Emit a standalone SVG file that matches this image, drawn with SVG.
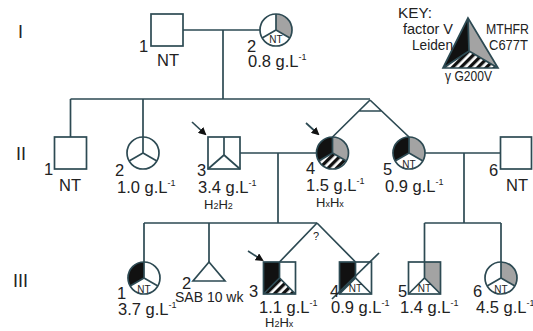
<svg xmlns="http://www.w3.org/2000/svg" width="533" height="331" viewBox="0 0 533 331">
<style>
text{font-family:"Liberation Sans",Arial,sans-serif;fill:#222;font-size:16.5px}
.ln{stroke:#2d4a53;stroke-width:1.7;fill:none}
.ol{stroke:#2d4a53;stroke-width:1.7;fill:none}
.bk{fill:#111}
.gy{fill:#a3a3a3}
.ht{fill:url(#hatch)}
.wh{fill:#fff}
.nt{font-size:10px;text-anchor:middle}
.sup{font-size:9px}
.sm{font-size:13px}
.rn{font-size:18px}
.key{font-size:15px}
.end{text-anchor:end}
</style>
<defs>
<pattern id="hatch" patternUnits="userSpaceOnUse" width="6" height="6" patternTransform="rotate(-45)">
<rect width="6" height="6" fill="#fff"/>
<rect width="6" height="3.3" fill="#111"/>
</pattern>
<marker id="arr" markerWidth="8" markerHeight="8" refX="6" refY="4" orient="auto" markerUnits="userSpaceOnUse">
<path d="M0,0 L8,4 L0,8 Z" fill="#111"/>
</marker>
</defs>

<g id="connectors">
<path class="ln" d="M183,30 H260 M223,30 V99 M70.5,99 H370 M70.5,99 V137 M143,99 V137"/>
<path class="ln" d="M370,100 L332.5,137 M370,100 L409,137 M359,111 H382"/>
<path class="ln" d="M240,153 H316.5 M278,153 V223 M144,223 H317 M144,223 V262 M209,223 V262"/>
<path class="ln" d="M317,223 L279.5,262 M317,223 L355.5,262"/>
<path class="ln" d="M425,153 H500.5 M464,153 V223 M424.5,223 H501 M424.5,223 V262 M501,223 V262"/>
<path class="ln" d="M192,122 L205,134" stroke="#111" marker-end="url(#arr)"/>
<path class="ln" d="M306,123 L318,134" stroke="#111" marker-end="url(#arr)"/>
<path class="ln" d="M248,251 L262,260" stroke="#111" marker-end="url(#arr)"/>
<text x="313" y="240" style="font-size:11px">?</text>
</g>

<g id="gen-labels">
<text class="rn" x="18" y="38">I</text>
<text class="rn" x="16" y="160">II</text>
<text class="rn" x="13" y="287">III</text>
</g>

<g id="key">
<path class="bk" d="M468,18 L469,51 L443,68 Z"/>
<path class="gy" d="M468,18 L469,51 L498,68 Z"/>
<path class="ht" d="M443,68 L469,51 L498,68 Z"/>
<path class="ol" d="M468,18 L443,68 L498,68 Z M468,18 L469,51 M443,68 L469,51 L498,68"/>
<text class="key end" x="432" y="18" textLength="34" lengthAdjust="spacingAndGlyphs">KEY:</text>
<text class="key end" x="453" y="34" textLength="50" lengthAdjust="spacingAndGlyphs">factor V</text>
<text class="key end" x="453" y="50" textLength="41" lengthAdjust="spacingAndGlyphs">Leiden</text>
<text class="key" x="486" y="34" textLength="43" lengthAdjust="spacingAndGlyphs">MTHFR</text>
<text class="key" x="489" y="50" textLength="39" lengthAdjust="spacingAndGlyphs">C677T</text>
<text class="key" x="445" y="81" textLength="47" lengthAdjust="spacingAndGlyphs">γ G200V</text>
</g>

<g id="I-1">
<rect class="ol" x="151" y="14" width="32" height="32" fill="#fff"/>
<text x="139" y="52">1</text>
<text x="157" y="66">NT</text>
</g>

<g id="I-2">
<g transform="translate(276,30)">
<circle r="16" class="wh"/>
<path class="gy" d="M0,0 L0,-16 A16,16 0 0 1 13.86,8 Z"/>
<path class="ol" d="M0,-16 L0,0 M-13.86,8 L0,0 L13.86,8"/>
<circle r="16" class="ol"/>
<text class="nt" x="0" y="13">NT</text>
</g>
<text x="247" y="52">2</text>
<text x="248" y="67">0.8 g.L<tspan class="sup" dy="-7">-1</tspan></text>
</g>

<g id="II-1">
<rect class="ol" x="54.5" y="137" width="32" height="32" fill="#fff"/>
<text x="44" y="175">1</text>
<text x="59" y="191">NT</text>
</g>

<g id="II-2">
<g transform="translate(143,153)">
<circle r="16" class="wh"/>
<path class="ol" d="M0,-16 L0,0 M-13.86,8 L0,0 L13.86,8"/>
<circle r="16" class="ol"/>
</g>
<text x="115" y="176">2</text>
<text x="117" y="193">1.0 g.L<tspan class="sup" dy="-7">-1</tspan></text>
</g>

<g id="II-3">
<g transform="translate(224,153)">
<rect x="-16" y="-16" width="32" height="32" class="wh"/>
<path class="ol" d="M0,-16 L0,2 M-16,16 L0,2 L16,16"/>
<rect x="-16" y="-16" width="32" height="32" class="ol"/>
</g>
<text x="197" y="176">3</text>
<text x="198" y="193">3.4 g.L<tspan class="sup" dy="-7">-1</tspan></text>
<text class="sm" x="204" y="209">H<tspan class="sup">2</tspan>H<tspan class="sup">2</tspan></text>
</g>

<g id="II-4">
<g transform="translate(332.5,153)">
<circle r="16" class="wh"/>
<path class="bk" d="M0,0 L0,-16 A16,16 0 0 0 -13.86,8 Z"/>
<path class="gy" d="M0,0 L0,-16 A16,16 0 0 1 13.86,8 Z"/>
<path class="ht" d="M0,0 L-13.86,8 A16,16 0 0 0 13.86,8 Z"/>
<path class="ol" d="M0,-16 L0,0 M-13.86,8 L0,0 L13.86,8"/>
<circle r="16" class="ol"/>
</g>
<text x="306" y="174">4</text>
<text x="306" y="191">1.5 g.L<tspan class="sup" dy="-7">-1</tspan></text>
<text class="sm" x="316" y="207">H<tspan class="sup">x</tspan>H<tspan class="sup">x</tspan></text>
</g>

<g id="II-5">
<g transform="translate(409,153)">
<circle r="16" class="wh"/>
<path class="bk" d="M0,0 L0,-16 A16,16 0 0 0 -13.86,8 Z"/>
<path class="gy" d="M0,0 L0,-16 A16,16 0 0 1 13.86,8 Z"/>
<path class="ol" d="M0,-16 L0,0 M-13.86,8 L0,0 L13.86,8"/>
<circle r="16" class="ol"/>
<text class="nt" x="0" y="15">NT</text>
</g>
<text x="383" y="175">5</text>
<text x="385" y="192">0.9 g.L<tspan class="sup" dy="-7">-1</tspan></text>
</g>

<g id="II-6">
<rect class="ol" x="500.5" y="137" width="31" height="32" fill="#fff"/>
<text x="489" y="176">6</text>
<text x="506" y="191">NT</text>
</g>

<g id="III-1">
<g transform="translate(144,278)">
<circle r="16" class="wh"/>
<path class="bk" d="M0,0 L0,-16 A16,16 0 0 0 -13.86,8 Z"/>
<path class="ol" d="M0,-16 L0,0 M-13.86,8 L0,0 L13.86,8"/>
<circle r="16" class="ol"/>
<text class="nt" x="0" y="15">NT</text>
</g>
<text x="117" y="299">1</text>
<text x="118" y="315">3.7 g.L<tspan class="sup" dy="-7">-1</tspan></text>
</g>

<g id="III-2">
<path class="ol" d="M209,262 L225,281 L193,281 Z" fill="#fff"/>
<text x="182" y="289">2</text>
<text x="175" y="302" style="font-size:14px">SAB 10 wk</text>
</g>

<g id="III-3">
<g transform="translate(279.5,278)">
<rect x="-16" y="-16" width="32" height="32" class="wh"/>
<path class="bk" d="M0,-16 L-16,-16 L-16,16 L0,0 Z"/>
<path class="ht" d="M-16,16 L16,16 L0,0 Z"/>
<path class="ol" d="M0,-16 L0,0 M-16,16 L0,0 L16,16"/>
<rect x="-16" y="-16" width="32" height="32" class="ol"/>
</g>
<text x="249" y="297">3</text>
<text x="259" y="313">1.1 g.L<tspan class="sup" dy="-7">-1</tspan></text>
<text class="sm" x="265" y="327">H<tspan class="sup">2</tspan>H<tspan class="sup">x</tspan></text>
</g>

<g id="III-4">
<g transform="translate(355.5,278)">
<rect x="-16" y="-16" width="32" height="32" class="wh"/>
<path class="bk" d="M0,-16 L-16,-16 L-16,16 L0,0 Z"/>
<path class="ol" d="M0,-16 L0,0 M-16,16 L0,0 L16,16"/>
<rect x="-16" y="-16" width="32" height="32" class="ol"/>
<text class="nt" x="0" y="14">NT</text>
</g>
<path class="ol" d="M332,299 L379,253"/>
<text x="330" y="297">4</text>
<text x="331" y="313">0.9 g.L<tspan class="sup" dy="-7">-1</tspan></text>
</g>

<g id="III-5">
<g transform="translate(424.5,278)">
<rect x="-16" y="-16" width="32" height="32" class="wh"/>
<path class="gy" d="M0,-16 L16,-16 L16,16 L0,0 Z"/>
<path class="ol" d="M0,-16 L0,0 M-16,16 L0,0 L16,16"/>
<rect x="-16" y="-16" width="32" height="32" class="ol"/>
<text class="nt" x="0" y="14">NT</text>
</g>
<text x="398" y="297">5</text>
<text x="400" y="313">1.4 g.L<tspan class="sup" dy="-7">-1</tspan></text>
</g>

<g id="III-6">
<g transform="translate(501,278)">
<circle r="16" class="wh"/>
<path class="gy" d="M0,0 L0,-16 A16,16 0 0 1 13.86,8 Z"/>
<path class="ol" d="M0,-16 L0,0 M-13.86,8 L0,0 L13.86,8"/>
<circle r="16" class="ol"/>
<text class="nt" x="0" y="15">NT</text>
</g>
<text x="473" y="297">6</text>
<text x="476" y="313">4.5 g.L<tspan class="sup" dy="-7">-1</tspan></text>
</g>
</svg>
